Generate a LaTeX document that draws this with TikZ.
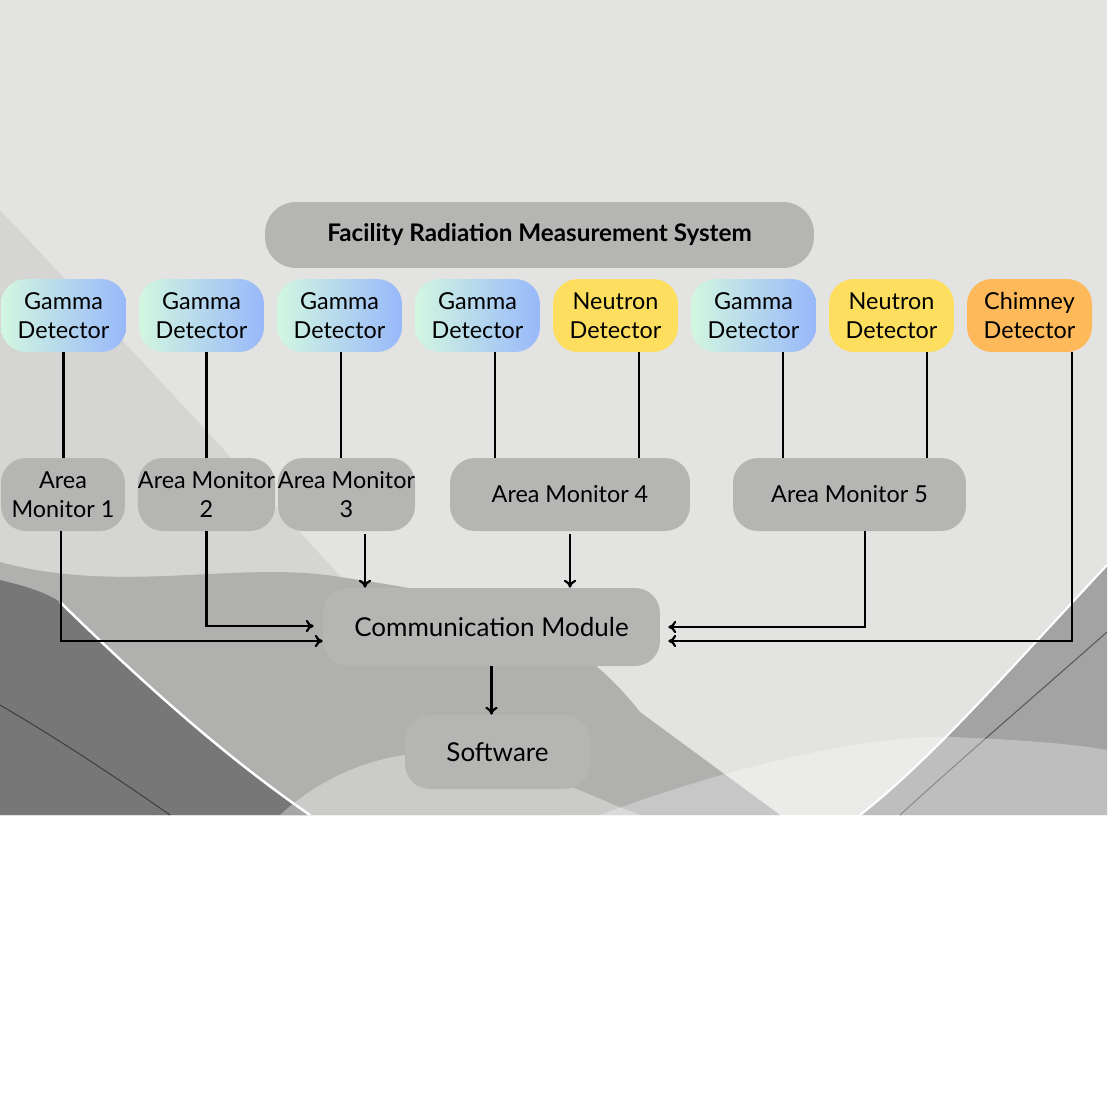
\documentclass[tikz,border=0pt]{standalone}
\usepackage{fontspec}
\setmainfont{Lato}
\usetikzlibrary{arrows.meta}

\definecolor{bgbase}{HTML}{E3E3E1}
\definecolor{bgdiag}{HTML}{D5D5D3}
\definecolor{bgmid}{HTML}{B0B0AF}
\definecolor{bgdark}{HTML}{777777}
\definecolor{bgright}{HTML}{A3A3A3}
\definecolor{boxgrey}{HTML}{B5B5B4}
\definecolor{mint}{HTML}{D2F7E0}
\definecolor{skyblue}{HTML}{98B8FA}
\definecolor{neutronyellow}{HTML}{FEDE5E}
\definecolor{chimneyorange}{HTML}{FEB95B}

\tikzset{
  unit/.style={rounded corners=0.5cm, align=center, inner sep=0pt,
    font=\fontsize{13.3}{16.5}\selectfont, text=black},
  detector/.style={unit, minimum width=2.5cm, minimum height=1.46cm},
  gamma/.style={detector, left color=mint, right color=skyblue},
  neutron/.style={detector, fill=neutronyellow},
  chimney/.style={detector, fill=chimneyorange},
  monitor/.style={unit, fill=boxgrey, minimum height=1.46cm},
  link/.style={line width=1.25pt, black},
  feed/.style={link, -{To[length=4.5pt,width=7pt]}}
}

\begin{document}
\begin{tikzpicture}[x=0.02cm, y=-0.02cm]
  \useasboundingbox (0,0) rectangle (1109,1109);
  \fill[bgbase] (0,0) rectangle (1107,815);
  \begin{scope}
    \clip (0,0) rectangle (1107,815);
    \fill[bgdiag] (0,210) .. controls (180,400) and (380,620) .. (560,815) -- (0,815) -- cycle;
    \fill[bgmid] (0,562) .. controls (120,595) and (240,560) .. (340,577) .. controls (460,595) and (560,610) .. (640,712) -- (780,815) -- (0,815) -- cycle;
    \fill[bgdark] (0,580) .. controls (25,586) and (45,592) .. (60,602) .. controls (150,690) and (230,760) .. (310,815) -- (0,815) -- cycle;
    \draw[white, line width=1.4pt] (60,602) .. controls (150,690) and (230,760) .. (310,815);
    \draw[black!75, line width=0.6pt] (0,705) .. controls (60,740) and (120,780) .. (170,815);
    \fill[white, opacity=0.35] (280,815) .. controls (340,760) and (420,740) .. (500,760) .. controls (560,780) and (600,800) .. (640,815) -- cycle;
    \fill[bgright] (1107,565) .. controls (1000,680) and (930,760) .. (860,815) -- (1107,815) -- cycle;
    \draw[white, line width=1.2pt] (1107,565) .. controls (1000,680) and (930,760) .. (860,815);
    \draw[black!65, line width=0.6pt] (1107,632) .. controls (1030,700) and (960,760) .. (900,815);
    \fill[white, opacity=0.3] (600,815) .. controls (720,770) and (860,735) .. (950,737) .. controls (1030,740) and (1080,745) .. (1107,750) -- (1107,815) -- cycle;
  \end{scope}

  \draw
    (539.5,235) node[unit, fill=boxgrey, minimum width=10.98cm, minimum height=1.32cm, rounded corners=0.62cm, font=\fontsize{13.8}{16.5}\selectfont\bfseries] (sys) {Facility Radiation Measurement System}
    (63.5,315.5) node[gamma] (g1) {Gamma\\Detector}
    (201.5,315.5) node[gamma] (g2) {Gamma\\Detector}
    (339.5,315.5) node[gamma] (g3) {Gamma\\Detector}
    (477.5,315.5) node[gamma] (g4) {Gamma\\Detector}
    (615.5,315.5) node[neutron] (n1) {Neutron\\Detector}
    (753.5,315.5) node[gamma] (g5) {Gamma\\Detector}
    (891.5,315.5) node[neutron] (n2) {Neutron\\Detector}
    (1029.5,315.5) node[chimney] (ch) {Chimney\\Detector}
    (63,494.5) node[monitor, minimum width=2.48cm] (am1) {Area\\Monitor 1}
    (206.5,494.5) node[monitor, minimum width=2.74cm] (am2) {Area Monitor\\2}
    (346.5,494.5) node[monitor, minimum width=2.7cm] (am3) {Area Monitor\\3}
    (570,494.5) node[monitor, minimum width=4.8cm] (am4) {Area Monitor 4}
    (849.5,494.5) node[monitor, minimum width=4.66cm] (am5) {Area Monitor 5}
    (491.5,627) node[monitor, minimum width=6.74cm, minimum height=1.56cm, font=\fontsize{14.8}{17}\selectfont] (cm) {Communication Module}
    (497.5,752) node[monitor, minimum width=3.7cm, minimum height=1.48cm, font=\fontsize{14.8}{17}\selectfont] (sw) {Software};
  \begin{scope}[link]
    \draw (g1.south) -- (g1.south |- am1.north);
    \draw (am2.north |- g2.south) -- (am2.north);
    \draw ([xshift=0.03cm]g3.south) -- ([xshift=0.03cm]g3.south |- am3.north);
    \draw ([xshift=0.35cm]g4.south) -- ([xshift=0.35cm]g4.south |- am4.north);
    \draw ([xshift=0.47cm]n1.south) -- ([xshift=0.47cm]n1.south |- am4.north);
    \draw ([xshift=0.59cm]g5.south) -- ([xshift=0.59cm]g5.south |- am5.north);
    \draw ([xshift=0.71cm]n2.south) -- ([xshift=0.71cm]n2.south |- am5.north);
  \end{scope}
  \begin{scope}[feed]
    \draw ([xshift=-0.04cm]am1.south) |- ([yshift=-0.28cm]cm.west);
    \draw (am2.south) |- ([xshift=-0.18cm,yshift=0.02cm]cm.west);
    \draw ([xshift=0.37cm,yshift=-0.06cm]am3.south) -- ([xshift=0.37cm]am3.south |- cm.north);
    \draw ([yshift=-0.06cm]am4.south) -- (am4.south |- cm.north);
    \draw ([xshift=0.31cm]am5.south) |- ([xshift=0.16cm]cm.east);
    \draw ([xshift=0.85cm]ch.south) |- ([xshift=0.16cm,yshift=-0.28cm]cm.east);
    \draw (cm.south) -- (cm.south |- sw.north);
  \end{scope}
\end{tikzpicture}
\end{document}
